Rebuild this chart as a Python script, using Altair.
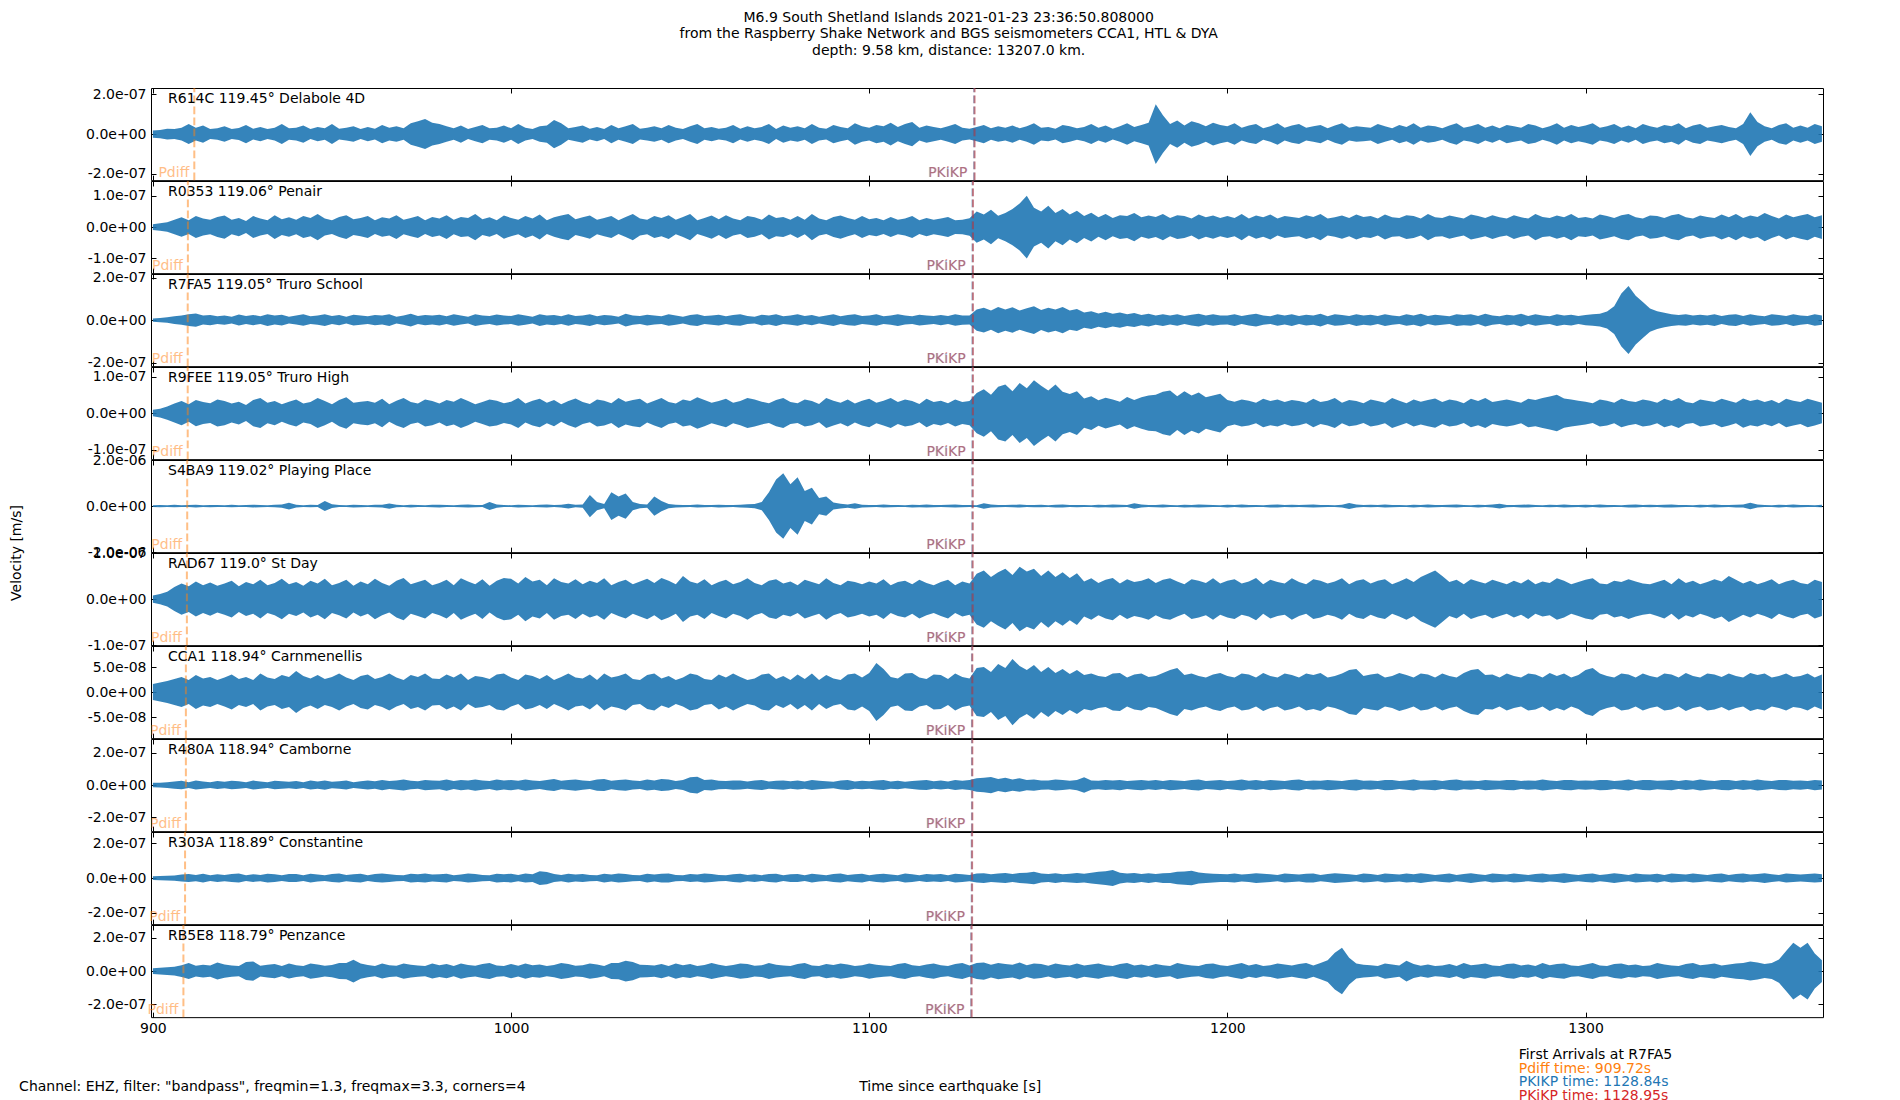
import altair as alt
import pandas as pd

F = "DejaVu Sans"
C0, C1, C3 = "#1f77b4", "#ff7f0e", "#d62728"
T0, T1 = 899.47, 1366.3
W, H = 1672, 92.15

stations = ["R614C", "R0353", "R7FA5", "R9FEE", "S4BA9", "RAD67", "CCA1", "R480A", "R303A", "RB5E8"]
dist_deg = ["119.45", "119.06", "119.05", "119.05", "119.02", "119.0", "118.94", "118.94", "118.89", "118.79"]
places = ["Delabole 4D", "Penair", "Truro School", "Truro High", "Playing Place", "St Day",
          "Carnmenellis", "Camborne", "Constantine", "Penzance"]
tick_v = [2e-7, 1e-7, 2e-7, 1e-7, 2e-6, 1e-7, 5e-8, 2e-7, 2e-7, 2e-7]
ylim = [2.31e-7, 1.47e-7, 2.17e-7, 1.26e-7, 2.0e-6, 1.0e-7, 0.92e-7, 2.85e-7, 2.66e-7, 2.76e-7]
t_pdiff = [911.56, 909.77, 909.72, 909.72, 909.58, 909.49, 909.21, 909.21, 908.98, 908.52]
t_PKIKP = [1129.30, 1128.85, 1128.84, 1128.84, 1128.80, 1128.77, 1128.69, 1128.69, 1128.62, 1128.48]
t_PKiKP = [1129.41, 1128.96, 1128.95, 1128.95, 1128.91, 1128.88, 1128.80, 1128.80, 1128.73, 1128.59]
x_ticks = [900, 1000, 1100, 1200, 1300]

# time of each envelope sample [s]
times = list(range(900, 1367, 2))

# envelope (|velocity|) in nm/s read every 2 s
env_R614C = [18,21,27,25,32,50,32,43,25,29, 39,25,30,46,27,36,25,32,50,29,
             32,43,25,36,29,50,27,32,39,25, 36,27,46,32,39,29,54,64,75,57,
             50,39,29,43,25,36,46,29,32,43, 29,50,32,25,39,43,71,54,29,36,
             43,27,36,25,46,29,39,50,27,32, 39,29,46,32,25,39,50,29,36,27,
             32,46,27,39,29,36,50,25,43,32, 39,29,50,32,27,46,36,29,54,39,
             32,46,39,57,36,50,61,32,43,36, 29,39,50,32,27,36,46,29,39,32,
             43,29,39,54,32,36,27,46,39,29, 36,50,32,43,27,39,54,36,46,57,
             150,95,50,68,43,64,54,39,57,46, 39,54,32,43,50,29,39,54,32,43,
             50,32,39,46,29,43,54,32,39,36, 32,50,39,29,46,36,54,32,43,39,
             29,43,54,32,39,50,32,43,29,46, 39,32,50,43,29,39,54,32,46,36,
             43,54,32,39,50,32,43,29,50,39, 32,46,39,54,29,43,50,32,39,46,
             36,29,50,110,61,39,29,46,54,32, 43,32,50,39]
env_R0353 = [9,12,15,23,31,22,35,27,23,32, 37,23,29,19,35,27,22,38,25,31,
             23,35,29,42,27,22,32,38,25,29, 35,22,31,27,38,23,29,35,22,32,
             27,38,23,32,29,42,25,31,22,37, 29,23,35,27,40,22,31,37,42,25,
             31,37,23,29,35,22,32,42,27,23, 35,29,38,23,32,42,22,29,37,25,
             38,27,22,35,31,23,40,29,32,23, 35,23,42,27,22,32,37,29,23,35,
             25,29,22,32,23,27,35,22,29,23, 27,32,22,23,28,50,40,55,36,45,
             58,75,100,62,50,68,45,58,40,52, 35,46,31,42,29,38,35,45,31,37,
             32,42,29,38,35,27,40,31,37,29, 35,29,42,27,37,31,40,27,35,32,
             29,38,32,42,27,31,37,29,40,32, 35,27,40,31,29,38,35,27,42,31,
             29,37,32,27,40,35,29,38,31,27, 38,31,27,42,32,29,37,31,42,29,
             32,27,40,35,29,38,42,31,27,37, 35,29,38,42,31,27,37,32,29,40,
             31,42,29,37,32,45,35,27,40,31, 37,42,31,38]
env_R7FA5 = [8,10,13,18,22,28,31,21,24,18, 22,16,26,19,24,18,28,21,25,16,
             21,27,18,22,28,19,24,16,25,22, 18,24,21,28,16,22,30,19,24,21,
             25,18,27,21,16,28,22,19,26,21, 19,27,22,16,28,21,24,18,27,19,
             22,28,18,24,21,16,30,22,19,25, 21,18,27,22,16,24,28,19,22,25,
             18,24,27,19,16,25,21,28,18,22, 27,19,24,16,22,28,18,24,27,19,
             22,27,18,22,28,21,18,25,22,19, 24,19,27,22,21,50,58,45,62,50,
             60,45,56,65,47,58,50,62,45,52, 36,42,31,39,30,36,28,33,24,30,
             22,28,21,27,19,25,30,21,27,22, 21,28,19,25,30,22,18,27,21,28,
             19,25,22,30,18,27,24,19,28,22, 25,19,28,22,18,27,22,30,19,25,
             22,18,28,24,27,19,30,22,18,25, 21,30,19,27,22,18,28,22,25,19,
             24,27,30,40,65,125,160,115,85,55, 42,34,28,24,27,21,25,22,28,19,
             25,28,19,27,22,18,27,24,19,28, 22,19,27,22]
env_R9FEE = [9,12,18,26,33,24,36,30,27,37, 33,26,31,22,36,41,28,33,24,31,
             37,26,30,41,33,24,36,43,28,31, 33,28,39,24,34,41,30,26,37,33,
             26,36,31,41,33,24,30,37,34,27, 31,41,26,34,39,28,36,24,33,40,
             30,25,37,34,27,41,31,36,39,26, 34,41,30,26,37,33,43,36,28,33,
             39,28,33,41,37,31,27,36,41,30, 27,37,33,25,41,34,28,37,26,34,
             39,28,34,41,30,37,33,25,39,30, 34,27,37,30,33,55,65,50,72,78,
             60,82,68,90,75,62,78,58,52,60, 40,46,35,42,37,31,44,36,43,48,
             50,58,62,46,60,48,56,43,48,53, 36,31,37,34,28,39,33,37,30,36,
             33,28,39,30,34,41,28,36,33,27, 37,33,28,41,34,27,37,31,36,40,
             30,37,34,27,39,33,41,30,34,37, 33,28,39,36,41,45,50,40,37,34,
             31,27,37,34,28,39,33,30,37,34, 28,39,33,41,30,27,37,34,30,39,
             34,28,40,33,37,30,36,27,39,34, 30,39,34,28]
env_S4BA9 = [35,50,40,55,35,45,60,40,50,45, 40,55,35,45,60,50,40,55,70,145,
             60,40,55,45,215,80,45,40,60,50, 40,55,60,115,55,40,60,45,40,55,
             60,45,40,55,65,50,45,175,70,45, 40,60,50,40,55,65,45,60,100,55,
             70,480,180,90,600,420,550,180,90,70, 420,220,90,60,50,45,65,50,45,60,
             50,45,60,75,90,180,600,1150,1420,950, 1250,650,800,350,420,150,100,70,120,60,
             50,45,65,50,45,40,60,50,65,50, 45,55,65,50,45,40,120,65,50,45,
             55,65,45,50,55,40,60,65,45,50, 45,40,60,50,65,55,45,120,65,45,
             50,65,45,40,60,50,65,55,45,40, 60,45,65,50,45,40,60,65,45,55,
             45,55,65,50,45,40,60,130,65,45, 55,45,65,50,45,40,60,45,65,50,
             45,55,65,45,40,60,45,65,100,50, 45,60,65,45,40,55,45,65,50,45,
             60,45,65,50,45,40,60,65,45,55, 45,60,65,50,45,40,60,45,65,50,
             45,60,65,140,65,45,40,60,45,65, 50,45,40,55]
env_RAD67 = [8,11,16,26,34,28,38,30,36,29, 34,40,28,37,32,42,30,35,44,32,
             37,29,40,34,44,30,35,42,29,38, 32,44,35,29,40,46,32,37,42,30,
             35,42,30,45,38,32,43,29,40,46, 44,34,48,38,42,30,45,37,34,43,
             32,40,35,45,30,37,42,32,38,44, 35,46,40,32,50,38,34,43,30,37,
             42,32,37,45,35,30,40,43,34,38, 30,42,37,32,45,35,30,40,37,32,
             38,34,43,30,37,40,32,42,35,30, 37,42,30,38,34,55,62,48,58,66,
             52,70,60,66,50,62,48,58,46,56, 38,45,35,42,46,34,43,37,40,45,
             35,42,45,38,32,43,40,35,45,34, 40,43,34,38,46,32,42,37,34,45,
             37,32,43,40,34,38,45,32,40,43, 34,40,43,32,38,45,37,48,55,62,
             50,37,42,32,43,38,34,42,37,32, 40,34,43,32,38,35,45,40,32,37,
             42,45,34,32,40,37,43,38,34,32, 37,42,32,45,35,40,32,37,43,38,
             50,42,34,40,32,37,43,32,38,42, 35,32,42,37]
env_CCA1 = [16,19,22,26,30,24,34,27,30,24, 29,35,26,30,24,37,29,26,34,30,
            42,32,27,34,26,30,37,29,24,32, 35,26,30,37,29,24,34,30,37,27,
            26,35,29,37,24,32,30,26,35,37, 29,24,35,32,26,34,24,30,37,29,
            27,35,24,37,29,32,37,26,24,34, 37,27,32,24,29,37,34,26,24,35,
            29,37,30,24,27,35,37,26,32,24, 35,26,37,24,34,27,24,35,37,29,
            38,58,46,30,27,37,38,29,26,35, 34,26,37,30,27,48,50,40,56,48,
            66,52,44,54,40,50,38,46,36,44, 34,37,32,30,37,38,29,35,37,30,
            32,38,44,48,34,37,32,29,35,38, 32,29,37,35,29,38,32,29,37,34,
            29,37,34,38,29,32,37,44,46,32, 35,37,29,32,38,34,29,37,35,29,
            37,32,29,38,44,46,34,35,29,37, 32,29,37,35,29,38,32,37,29,34,
            44,48,37,32,29,37,35,29,37,32, 29,37,35,29,38,32,29,37,35,30,
            37,32,29,38,34,37,29,32,37,30, 32,37,29,35]
env_R480A = [14,15,18,22,26,18,28,22,18,25, 20,26,23,18,28,22,18,26,23,20,
             25,18,28,22,29,20,23,28,18,23, 28,23,32,25,29,34,26,23,32,29,
             26,35,25,32,28,35,29,25,34,28, 32,26,35,29,25,32,37,26,31,35,
             29,25,35,37,26,32,35,28,25,34, 29,37,34,25,31,48,52,31,34,26,
             25,29,28,22,28,31,22,26,29,23, 28,22,31,26,23,20,28,31,22,26,
             23,28,31,22,26,20,25,29,31,23, 28,22,31,26,31,42,45,50,37,45,
             35,42,32,35,29,28,34,31,26,32, 48,29,26,31,28,32,25,29,32,26,
             31,25,32,29,25,31,34,25,28,32, 25,29,34,26,31,25,32,29,25,31,
             34,25,29,26,32,29,25,31,34,26, 29,25,32,31,25,29,34,26,29,32,
             25,31,34,26,29,25,32,29,26,31, 32,25,29,26,34,29,25,31,32,26,
             29,26,32,31,25,29,34,25,31,32, 26,29,32,25,31,26,34,29,25,31,
             32,25,31,26,34,29,25,31,32,26, 29,25,32,28]
env_R303A = [11,12,14,15,20,23,18,25,17,22, 18,23,26,17,22,18,25,22,17,23,
             23,17,25,20,17,23,26,18,22,25, 17,23,26,22,18,17,25,22,26,20,
             22,25,17,20,26,23,18,17,25,22, 25,18,26,22,40,35,23,18,25,20,
             23,18,17,25,20,26,23,18,17,25, 20,25,26,18,17,23,20,26,23,18,
             17,22,25,18,22,17,23,25,17,22, 23,17,25,20,17,23,26,18,22,25,
             17,22,25,20,17,26,22,17,23,20, 23,17,25,22,18,26,28,22,26,29,
             23,29,31,36,26,23,28,22,25,29, 25,31,36,40,46,31,26,29,23,28,
             23,28,29,36,38,42,32,28,25,23, 22,26,20,23,28,25,22,18,26,23,
             20,25,26,18,23,28,25,22,18,26, 23,18,26,23,20,26,22,28,23,18,
             22,26,18,23,28,22,18,26,23,20, 26,22,18,23,26,20,23,28,22,18,
             23,26,18,22,28,23,18,26,22,20, 25,18,26,23,20,26,22,18,23,26,
             18,23,26,20,23,28,22,18,26,23, 20,23,26,22]
env_RB5E8 = [17,20,23,26,35,48,32,38,34,51, 40,34,31,54,58,32,38,43,31,45,
             35,31,46,40,32,37,48,49,68,46, 37,31,45,35,32,46,38,34,31,45,
             35,43,31,46,37,32,42,48,34,31, 43,32,46,35,40,31,37,48,42,32,
             35,46,40,31,48,49,62,55,38,37, 34,43,31,46,35,42,31,37,48,38,
             31,37,46,42,32,35,48,38,34,31, 42,48,34,31,43,37,46,40,31,35,
             46,38,34,31,42,48,35,31,40,46, 35,31,42,48,34,48,52,38,49,43,
             38,51,35,46,42,32,45,38,34,46, 34,40,46,35,31,42,48,34,40,31,
             42,35,31,48,40,34,31,42,46,35, 31,40,48,34,42,31,35,46,40,34,
             42,48,34,49,65,110,139,80,45,38, 35,31,46,40,34,62,42,32,40,31,
             34,42,31,48,35,40,46,34,31,42, 46,34,40,31,48,35,42,46,34,31,
             40,48,34,31,42,46,35,40,31,34, 48,40,34,31,42,48,35,40,46,34,
             40,46,49,57,51,42,48,70,120,170, 140,170,105,65]
envs = [env_R614C, env_R0353, env_R7FA5, env_R9FEE, env_S4BA9,
        env_RAD67, env_CCA1, env_R480A, env_R303A, env_RB5E8]

title_lines = ["M6.9 South Shetland Islands 2021-01-23 23:36:50.808000",
               "from the Raspberry Shake Network and BGS seismometers CCA1, HTL & DYA",
               "depth: 9.58 km, distance: 13207.0 km."]
footer_left = 'Channel: EHZ, filter: "bandpass", freqmin=1.3, freqmax=3.3, corners=4'
arrival_lines = [("First Arrivals at R7FA5", "black"),
                 ("Pdiff time: 909.72s", C1),
                 ("PKIKP time: 1128.84s", C0),
                 ("PKiKP time: 1128.95s", C3)]

LBL = ("replace(replace(replace(format(datum.value, '.1e'), '\u2212', '-'), 'e-', 'e-0'), 'e+', 'e+0')")

one = pd.DataFrame({"k": [0]})


def txt(text, x, y, align="left", baseline="middle", color="black", size=14, angle=0, opacity=1.0):
    kw = dict(text=text, align=align, baseline=baseline, color=color, fontSize=size,
              font=F, opacity=opacity)
    if angle:
        kw["angle"] = angle
    return alt.Chart(one).mark_text(**kw).encode(x=alt.value(x), y=alt.value(y))


def panel(i):
    df = pd.DataFrame([{"t": t, "hi": e * 1e-9, "lo": -e * 1e-9} for t, e in zip(times, envs[i])])
    xs = alt.Scale(domain=[T0, T1], nice=False, zero=False)
    ys = alt.Scale(domain=[-ylim[i], ylim[i]], nice=False, zero=False)
    yvals = [-tick_v[i], 0, tick_v[i]]

    top_axis = alt.Axis(orient="top", values=x_ticks, labels=False, domain=False, grid=False,
                        tickSize=5, offset=-5, title=None)
    left_axis = alt.Axis(orient="left", values=yvals, labelExpr=LBL, domain=False, grid=False,
                         tickSize=5, offset=-5, labelPadding=5, title=None)
    right_axis = alt.Axis(orient="right", values=yvals, labels=False, domain=False, grid=False,
                          tickSize=5, offset=-5, title=None)
    if i == 9:
        bottom_axis = alt.Axis(orient="bottom", values=x_ticks, format="d", domain=False, grid=False,
                               tickSize=5, offset=-5, labelPadding=4, labelFlush=False,
                               title="Time since earthquake [s]", titleX=798.7, titleY=74,
                               titleBaseline="middle", titleAlign="center")
    else:
        bottom_axis = alt.Axis(orient="bottom", values=x_ticks, labels=False, domain=False, grid=False,
                               tickSize=5, offset=-5, title=None)

    trace = alt.Chart(df).mark_area(color=C0, opacity=0.9, clip=True).encode(
        x=alt.X("t:Q", scale=xs, axis=top_axis),
        y=alt.Y("hi:Q", scale=ys, axis=left_axis),
        y2="lo:Q",
    )
    arr = pd.DataFrame({"tp": [t_pdiff[i]], "tk": [t_PKIKP[i]], "tki": [t_PKiKP[i]],
                        "ylo": [-ylim[i]], "yhi": [ylim[i]]})
    dash = [7.7, 3.3]
    r_p = alt.Chart(arr).mark_rule(color=C1, opacity=0.5, strokeWidth=2, strokeDash=dash).encode(
        x=alt.X("tp:Q", scale=xs, axis=bottom_axis),
        y=alt.Y("ylo:Q", scale=ys, axis=right_axis), y2="yhi:Q")
    r_k = alt.Chart(arr).mark_rule(color=C0, opacity=0.5, strokeWidth=2, strokeDash=dash).encode(
        x=alt.X("tk:Q", scale=xs, axis=None),
        y=alt.Y("ylo:Q", scale=ys, axis=None), y2="yhi:Q")
    r_ki = alt.Chart(arr).mark_rule(color=C3, opacity=0.5, strokeWidth=2, strokeDash=dash).encode(
        x=alt.X("tki:Q", scale=xs, axis=None),
        y=alt.Y("ylo:Q", scale=ys, axis=None), y2="yhi:Q")
    lab_kw = dict(align="right", baseline="alphabetic", fontSize=14, font=F, opacity=0.5)
    l_p = alt.Chart(arr).mark_text(text="Pdiff", color=C1, dx=-5, **lab_kw).encode(
        x=alt.X("tp:Q", scale=xs, axis=None), y=alt.value(H - 2.7))
    l_k = alt.Chart(arr).mark_text(text="PKIKP", color=C0, dx=-7, **lab_kw).encode(
        x=alt.X("tk:Q", scale=xs, axis=None), y=alt.value(H - 2.7))
    l_ki = alt.Chart(arr).mark_text(text="PKiKP", color=C3, dx=-7, **lab_kw).encode(
        x=alt.X("tki:Q", scale=xs, axis=None), y=alt.value(H - 2.7))
    name = txt(f"{stations[i]} {dist_deg[i]}\u00b0 {places[i]}", 17, 15, baseline="alphabetic")

    layers = [trace, r_p, r_k, r_ki, l_p, l_k, l_ki, name]
    if i == 0:
        for j, line in enumerate(title_lines):
            layers.append(txt(line, 797.7, [-70.1, -53.7, -37.5][j], align="center"))
    if i == 5:
        layers.append(txt("Velocity [m/s]", -134.3, 0, align="center", angle=270))
    if i == 9:
        layers.append(txt(footer_left, -131.9, 161.5))
        for j, (line, col) in enumerate(arrival_lines):
            layers.append(txt(line, 1367.7, [130.0, 143.6, 157.2, 170.8][j], color=col))
    return alt.layer(*layers).resolve_axis(x="independent", y="independent").properties(width=W, height=H)


chart = alt.vconcat(*[panel(i) for i in range(10)], spacing=0, bounds="flush").properties(
    padding={"left": 1, "top": 2, "right": 10, "bottom": 4}
).configure(font=F).configure_view(stroke="black", strokeWidth=1).configure_axis(
    labelFont=F, labelFontSize=14, labelColor="black", tickColor="black", tickWidth=1,
    titleFont=F, titleFontSize=14, titleFontWeight="normal", titleColor="black"
)

chart.save("out.html", embed_options={"renderer": "svg", "actions": False})
